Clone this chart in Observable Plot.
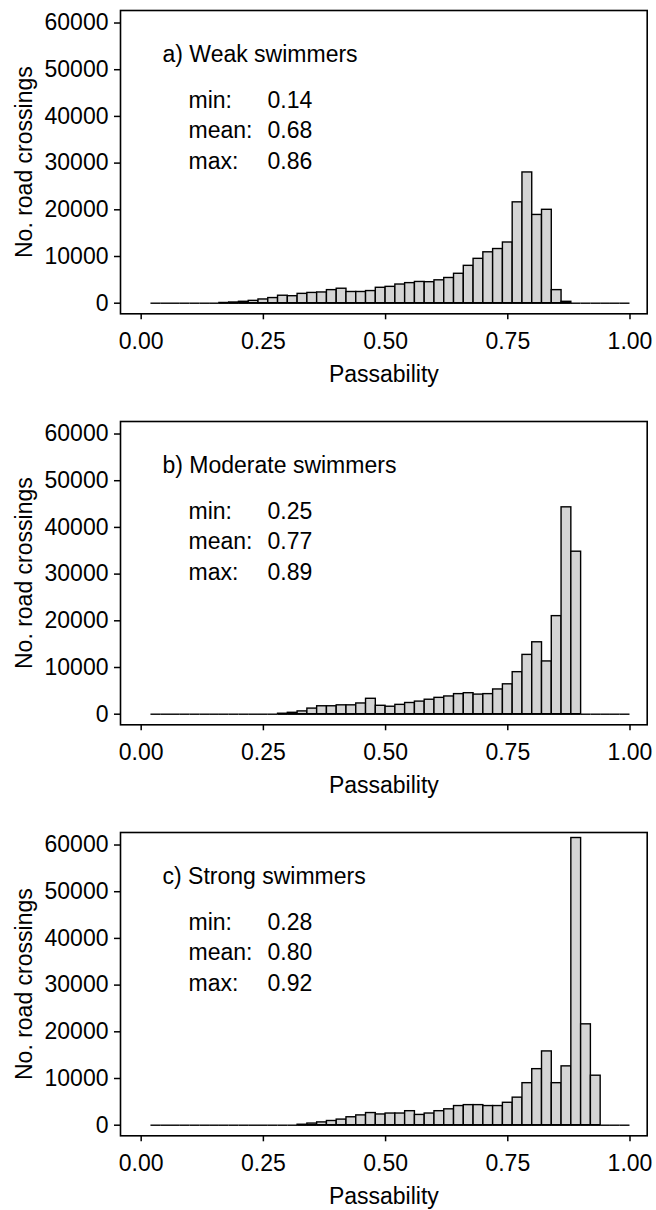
<!DOCTYPE html>
<html>
<head>
<meta charset="utf-8">
<script src="https://cdn.jsdelivr.net/npm/d3@7"></script>
<script src="https://cdn.jsdelivr.net/npm/@observablehq/plot@0.6"></script>
<style>
  body { margin: 0; background: #ffffff; }
  #chart { width: 656px; }
  #chart svg { display: block; }
</style>
</head>
<body>
<div id="chart"></div>
<script>
// ---- Data ----
const binWidth = 0.02;
const binStarts = [0.02,0.04,0.06,0.08,0.10,0.12,0.14,0.16,0.18,0.20,
                   0.22,0.24,0.26,0.28,0.30,0.32,0.34,0.36,0.38,0.40,
                   0.42,0.44,0.46,0.48,0.50,0.52,0.54,0.56,0.58,0.60,
                   0.62,0.64,0.66,0.68,0.70,0.72,0.74,0.76,0.78,0.80,
                   0.82,0.84,0.86,0.88,0.90,0.92,0.94,0.96,0.98];

const weakCounts = [0,0,0,0,0,0,0,50,150,300,
                    500,800,1100,1600,1500,2000,2200,2300,2800,3100,
                    2400,2400,2600,3300,3500,4000,4300,4550,4500,4900,
                    5400,6300,8000,9500,10900,11600,13000,21600,28000,18900,
                    20000,2800,300,0,0,0,0,0,0];

const moderateCounts = [0,0,0,0,0,0,0,0,0,0,
                        0,0,0,100,300,600,1200,1700,1700,1900,
                        1900,2300,3300,1800,1600,2000,2400,2700,3100,3500,
                        3800,4300,4500,4200,4300,5300,6400,9000,12700,15400,
                        11300,21000,44300,34800,0,0,0,0,0];

const strongCounts = [0,0,0,0,0,0,0,0,0,0,
                      0,0,0,0,0,100,350,600,900,1200,
                      1700,2100,2600,2300,2500,2500,3000,2200,2500,3000,
                      3400,4100,4300,4300,4100,4100,4800,5900,9000,12000,
                      15800,9000,12600,61500,21600,10600,0,0,0];

const panelTitles = ["a) Weak swimmers", "b) Moderate swimmers", "c) Strong swimmers"];
const statLabels = ["min:", "mean:", "max:"];
const weakStats = ["0.14", "0.68", "0.86"];
const moderateStats = ["0.25", "0.77", "0.89"];
const strongStats = ["0.28", "0.80", "0.92"];

const xTicks = [0, 0.25, 0.50, 0.75, 1.00];
const yTicks = [0, 10000, 20000, 30000, 40000, 50000, 60000];
const xLabel = "Passability";
const yLabel = "No. road crossings";

// ---- Drawing ----
const FONT = "'Liberation Sans', Arial, Helvetica, sans-serif";
const FS = 23;

const panels = [
  {title: panelTitles[0], counts: weakCounts, stats: weakStats, height: 411},
  {title: panelTitles[1], counts: moderateCounts, stats: moderateStats, height: 411},
  {title: panelTitles[2], counts: strongCounts, stats: strongStats, height: 388}
];

function drawPanel(p) {
  const bins = binStarts.map((x1, i) => ({x1, x2: x1 + binWidth, count: p.counts[i]}));
  const frameBottom = 313.3;
  const statMarks = [];
  statLabels.forEach((lab, i) => {
    statMarks.push(Plot.text([lab], {frameAnchor: "top-left", dx: 68, dy: 90 + 30.5 * i,
      textAnchor: "start", lineAnchor: "middle", fontSize: FS, fill: "black"}));
    statMarks.push(Plot.text([p.stats[i]], {frameAnchor: "top-left", dx: 147, dy: 90 + 30.5 * i,
      textAnchor: "start", lineAnchor: "middle", fontSize: FS, fill: "black"}));
  });
  return Plot.plot({
    width: 656,
    height: p.height,
    marginLeft: 120,
    marginRight: 9.3,
    marginTop: 10,
    marginBottom: p.height - frameBottom,
    style: {fontFamily: FONT, fontSize: FS + "px", color: "black", background: "white"},
    x: {domain: [-0.0423, 1.0352]},
    y: {domain: [-2270, 62680]},
    marks: [
      Plot.ruleY(bins, {x1: "x1", x2: "x2", y: () => 0, stroke: "black", strokeWidth: 1.4}),
      Plot.rectY(bins.filter(d => d.count > 0), {x1: "x1", x2: "x2", y1: () => 0, y2: "count",
        fill: "#d4d4d4", stroke: "black", strokeWidth: 1.4}),
      Plot.frame({stroke: "black", strokeWidth: 1.6}),
      Plot.axisX({ticks: xTicks, tickFormat: d3.format(".2f"), tickSize: 6, tickPadding: 13,
        strokeWidth: 1.5, fontSize: FS, label: null}),
      Plot.axisY({ticks: yTicks, tickFormat: d3.format("d"), tickSize: 6, tickPadding: 6,
        strokeWidth: 1.5, fontSize: FS, label: null}),
      Plot.text([xLabel], {frameAnchor: "bottom", dy: 52, lineAnchor: "top", textAnchor: "middle",
        fontSize: FS, fill: "black"}),
      Plot.text([yLabel], {frameAnchor: "left", dx: -96, rotate: -90, lineAnchor: "middle",
        textAnchor: "middle", fontSize: FS, fill: "black"}),
      Plot.text([p.title], {frameAnchor: "top-left", dx: 42, dy: 44, textAnchor: "start",
        lineAnchor: "middle", fontSize: FS, fill: "black"}),
      ...statMarks
    ]
  });
}

const container = document.getElementById("chart");
panels.forEach(p => container.appendChild(drawPanel(p)));
</script>
</body>
</html>
